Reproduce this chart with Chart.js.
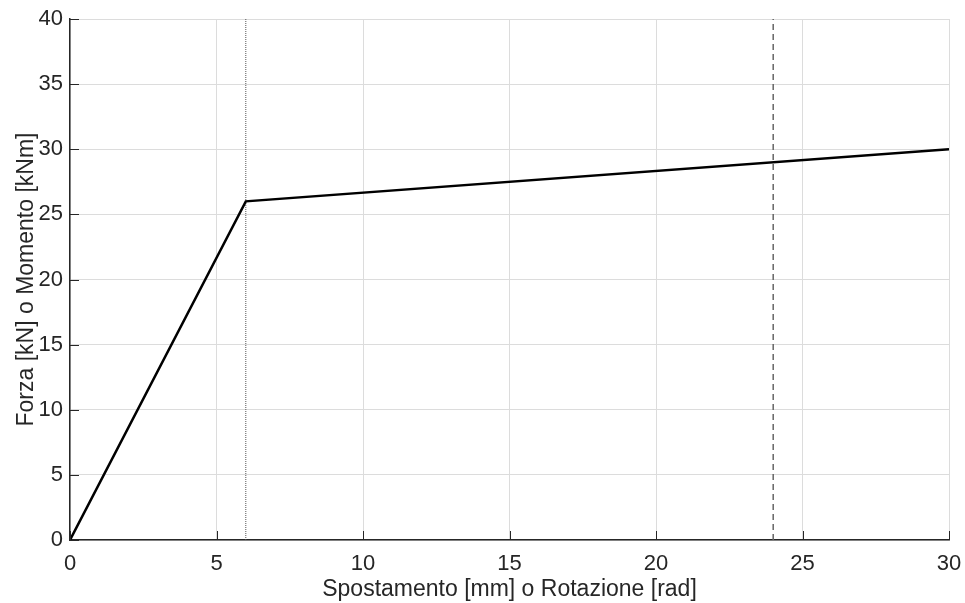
<!DOCTYPE html>
<html>
<head>
<meta charset="utf-8">
<style>
  html, body { margin: 0; padding: 0; background: #fff; }
  #wrap { width: 965px; height: 603px; }
</style>
<script src="https://cdn.jsdelivr.net/npm/chart.js@4/dist/chart.umd.min.js"></script>
</head>
<body>
<div id="wrap"><canvas id="chart" width="965" height="603"></canvas></div>
<script>
// force-displacement curve (bilinear)
var displacement = [0, 6, 30];
var force = [0, 26, 30];
// reference vertical lines
var yieldX = 6;
var ultimateX = 24;
var yRange = [0, 40];
var xRange = [0, 30];

var FONT = "'Liberation Sans', Arial, sans-serif";
var AXIS = '#262626';

// MATLAB-like inner tick marks
var innerTicks = {
    id: 'innerTicks',
    afterDatasetsDraw: function(chart) {
        var ctx = chart.ctx, a = chart.chartArea;
        var xs = chart.scales.x, ys = chart.scales.y;
        ctx.save();
        ctx.strokeStyle = AXIS;
        ctx.lineWidth = 1;
        ctx.beginPath();
        xs.ticks.forEach(function(t) {
            var px = Math.round(xs.getPixelForValue(t.value)) + 0.5;
            ctx.moveTo(px, a.bottom);
            ctx.lineTo(px, a.bottom - 9);
        });
        ys.ticks.forEach(function(t) {
            var py = Math.round(ys.getPixelForValue(t.value)) + 0.5;
            ctx.moveTo(a.left, py);
            ctx.lineTo(a.left + 9, py);
        });
        ctx.stroke();
        ctx.restore();
    }
};

var ctx = document.getElementById('chart').getContext('2d');
new Chart(ctx, {
    type: 'scatter',
    data: {
        datasets: [
            {
                label: 'curva',
                data: displacement.map(function(x, i) { return {x: x, y: force[i]}; }),
                showLine: true,
                borderColor: '#000',
                borderWidth: 2.5,
                pointRadius: 0,
                order: 0
            },
            {
                label: 'snervamento',
                data: [{x: yieldX, y: yRange[0]}, {x: yieldX, y: yRange[1]}],
                showLine: true,
                borderColor: '#555',
                borderWidth: 1,
                borderDash: [1, 1],
                pointRadius: 0,
                order: 1
            },
            {
                label: 'ultimo',
                data: [{x: ultimateX, y: yRange[0]}, {x: ultimateX, y: yRange[1]}],
                showLine: true,
                borderColor: '#666',
                borderWidth: 1.5,
                borderDash: [6, 4],
                pointRadius: 0,
                order: 1
            }
        ]
    },
    options: {
        responsive: false,
        animation: false,
        layout: { padding: { top: 19, right: 16, left: 0, bottom: 0 } },
        plugins: { legend: { display: false }, tooltip: { enabled: false } },
        scales: {
            x: {
                type: 'linear',
                min: xRange[0], max: xRange[1],
                ticks: { stepSize: 5, color: AXIS, font: { family: FONT, size: 22 }, padding: 11, maxRotation: 0 },
                grid: { color: '#dcdcdc', tickLength: 0, lineWidth: 1 },
                border: { color: AXIS, width: 1.5 },
                title: { display: true, text: 'Spostamento [mm] o Rotazione [rad]', color: AXIS,
                         font: { family: FONT, size: 23 }, padding: { top: 2, bottom: 0 } },
                afterFit: function(s) { s.height = 63; s.paddingRight = 0; s.paddingLeft = 0; }
            },
            y: {
                type: 'linear',
                min: yRange[0], max: yRange[1],
                ticks: { stepSize: 5, color: AXIS, font: { family: FONT, size: 22 }, padding: 7 },
                grid: { color: '#dcdcdc', tickLength: 0, lineWidth: 1 },
                border: { color: AXIS, width: 1.5 },
                title: { display: true, text: 'Forza [kN] o Momento [kNm]', color: AXIS,
                         font: { family: FONT, size: 23 }, padding: { top: 13, bottom: 4 } },
                afterFit: function(s) { s.width = 70; s.paddingTop = 0; s.paddingBottom = 0; }
            }
        }
    },
    plugins: [innerTicks]
});
</script>
</body>
</html>
